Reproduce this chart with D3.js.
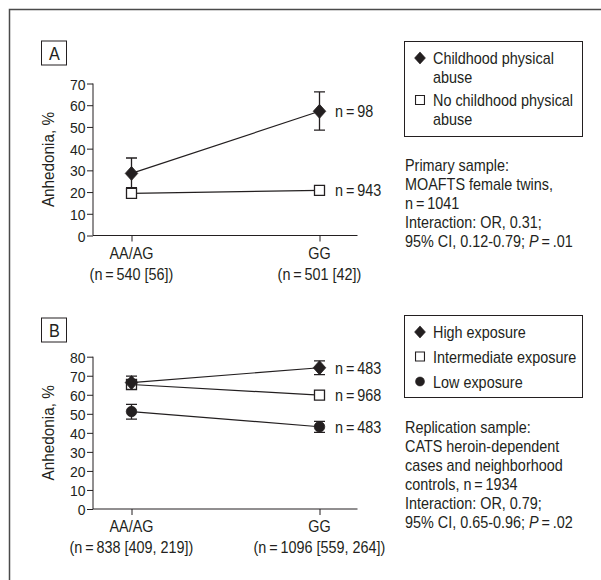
<!DOCTYPE html>
<html><head><meta charset="utf-8">
<script src="https://cdn.jsdelivr.net/npm/d3@7"></script>
<style>
body{margin:0;background:#fff;}
svg{display:block;font-family:"Liberation Sans",Arial,sans-serif;}
text{fill:#231f20;font-size:16px;}
</style></head><body>
<script>
// ---- data ----
const categories = ["AA/AG", "GG"];
const catLabelsA = ["(n\u2009=\u2009540 [56])", "(n\u2009=\u2009501 [42])"];
const catLabelsB = ["(n\u2009=\u2009838 [409, 219])", "(n\u2009=\u20091096 [559, 264])"];
const ticksA = [0,10,20,30,40,50,60,70];
const ticksB = [0,10,20,30,40,50,60,70,80];

const seriesA = ["Childhood physical abuse", "No childhood physical abuse"];
const abuseVal = [28.6, 57.2];
const abuseLo = [22.0, 48.5];
const abuseHi = [35.7, 66.1];
const noAbuseVal = [19.4, 20.8];
const noAbuseLo = [17.6, 19.0];
const noAbuseHi = [21.5, 22.6];
const nLabelsA = ["n\u2009=\u200998", "n\u2009=\u2009943"];

const seriesB = ["High exposure", "Intermediate exposure", "Low exposure"];
const highVal = [66.4, 74.2];
const highLo = [63.0, 70.6];
const highHi = [69.8, 77.8];
const interVal = [65.4, 59.8];
const interLo = [62.8, 57.6];
const interHi = [68.0, 62.2];
const lowVal = [51.2, 43.2];
const lowLo = [47.2, 40.2];
const lowHi = [55.0, 46.0];
const nLabelsB = ["n\u2009=\u2009483", "n\u2009=\u2009968", "n\u2009=\u2009483"];

const noteA = ["Primary sample:", "MOAFTS female twins,", "n\u2009=\u20091041", "Interaction: OR, 0.31;", ["95% CI, 0.12-0.79; ", "P", "\u2009=\u2009.01"]];
const noteB = ["Replication sample:", "CATS heroin-dependent", "cases and neighborhood", "controls, n\u2009=\u20091934", "Interaction: OR, 0.79;", ["95% CI, 0.65-0.96; ", "P", "\u2009=\u2009.02"]];

// ---- drawing ----
const W = 601, H = 580, ink = "#231f20", SX = 0.9;
const svg = d3.select("body").append("svg").attr("width", W).attr("height", H);

// condensed text helper
function T(g, x, y, str, size, anchor){
  const t = g.append("text").attr("transform",`translate(${x},${y}) scale(${SX},1)`)
    .attr("text-anchor", anchor||"start").style("font-size", (size||16)+"px");
  if(str!==undefined) t.text(str);
  return t;
}

// frame
svg.append("path").attr("d", "M9.5,580V9.5H601").attr("fill","none").attr("stroke","#4a4a4a").attr("stroke-width",1.5);

const diamond = { draw(ctx, size){ const h = Math.sqrt(size)*0.78, w = h*0.9;
  ctx.moveTo(0,-h); ctx.lineTo(w,0); ctx.lineTo(0,h); ctx.lineTo(-w,0); ctx.closePath(); } };
const square = { draw(ctx,size){ const s=Math.sqrt(size)/2; ctx.rect(-s,-s,2*s,2*s);} };
const circle = { draw(ctx,size){ const r=Math.sqrt(size)/2; ctx.moveTo(r,0); ctx.arc(0,0,r,0,2*Math.PI);} };

function marker(g, type, x, y, fill){
  const sym = type==="diamond"? diamond : type==="square"? square : circle;
  const size = type==="diamond"? 80 : type==="square"? 100 : 110;
  g.append("path").attr("d", d3.symbol().type(sym).size(size)())
   .attr("transform",`translate(${x},${y})`)
   .attr("fill", fill).attr("stroke", ink).attr("stroke-width", type==="square"?1.3:0.8);
}

function panel(opt){
  const g = svg.append("g");
  const x = d3.scalePoint().domain(categories).range([131.5, 319.5]);
  const y = d3.scaleLinear().domain([0, opt.max]).range([opt.y0, opt.y1]);
  // letter box
  g.append("rect").attr("x",41.5).attr("y",opt.boxY+0.5).attr("width",25).attr("height",24)
    .attr("fill","none").attr("stroke",ink).attr("stroke-width",1);
  T(g, 54.5, opt.boxY+19.5, opt.letter, 18, "middle");
  // y axis
  const ya = g.append("g").attr("transform","translate(93,0)")
    .call(d3.axisLeft(y).tickValues(opt.ticks).tickSize(6).tickPadding(2));
  ya.attr("font-family",null).attr("font-size",null);
  ya.select(".domain").attr("stroke",ink).attr("d",`M-0,${opt.y0}V${opt.y1}`);
  ya.selectAll(".tick line").attr("stroke",ink);
  ya.selectAll(".tick text").attr("x",-7.5/SX).attr("dy","0.36em")
    .attr("transform",`scale(${SX},1)`).style("font-size","15.5px").attr("fill",ink);
  // x axis
  const xa = g.append("g").attr("transform",`translate(0,${opt.y0})`)
    .call(d3.axisBottom(x).tickSize(6).tickFormat(""));
  xa.select(".domain").attr("stroke",ink).attr("d","M93,0H357.5");
  xa.selectAll(".tick line").attr("stroke",ink);
  categories.forEach((c,i)=>{
    T(g, x(c), opt.y0+23, c, 16, "middle");
    T(g, x(c), opt.y0+44, opt.catLabels[i], 16, "middle");
  });
  // y title
  g.append("text").attr("transform",`translate(54,${(opt.y0+opt.y1)/2}) rotate(-90) scale(${SX},1)`)
    .attr("text-anchor","middle").style("font-size","17px").text("Anhedonia, %");
  // series
  const line = d3.line().x((d,i)=>x(categories[i])).y(d=>y(d));
  opt.series.forEach(s=>{
    g.append("path").attr("d",line(s.val)).attr("fill","none").attr("stroke",ink).attr("stroke-width",1.2);
  });
  opt.series.forEach(s=>{
    categories.forEach((c,i)=>{
      const cx = x(c);
      g.append("path").attr("d",`M${cx},${y(s.lo[i])}V${y(s.hi[i])}M${cx-5.5},${y(s.lo[i])}H${cx+5.5}M${cx-5.5},${y(s.hi[i])}H${cx+5.5}`)
        .attr("stroke",ink).attr("stroke-width",1.3).attr("fill","none");
    });
  });
  opt.series.forEach(s=>{
    categories.forEach((c,i)=> marker(g, s.type, x(c), y(s.val[i]), s.fill));
    T(g, 335, y(s.val[1])+6, s.n, 16);
  });
  // legend
  g.append("rect").attr("x",404.5).attr("y",opt.leg.y+0.5).attr("width",178).attr("height",opt.leg.h)
    .attr("fill","none").attr("stroke",ink).attr("stroke-width",1);
  opt.leg.items.forEach(it=>{
    if(it.type) {
      const sym = it.type==="diamond"? diamond : it.type==="square"? square : circle;
      const size = it.type==="diamond"? 60 : it.type==="square"? 80 : 80;
      g.append("path").attr("d", d3.symbol().type(sym).size(size)()).attr("transform",`translate(420,${it.y})`)
        .attr("fill", it.fill).attr("stroke",ink).attr("stroke-width", it.type==="square"?1.1:0.6);
    }
    T(g, 433, it.y+6, it.text, 16);
  });
  // note
  opt.note.forEach((ln,i)=>{
    const t = T(g, 405, opt.noteY+i*19+6, undefined, 16);
    if(Array.isArray(ln)){
      t.append("tspan").text(ln[0]);
      t.append("tspan").style("font-style","italic").text(ln[1]);
      t.append("tspan").text(ln[2]);
    } else t.text(ln);
  });
}

panel({letter:"A", boxY:40.5, max:70, y0:235.5, y1:83.5, ticks:ticksA, catLabels:catLabelsA,
  series:[
    {type:"diamond", fill:ink, val:abuseVal, lo:abuseLo, hi:abuseHi, n:nLabelsA[0]},
    {type:"square", fill:"#fff", val:noAbuseVal, lo:noAbuseLo, hi:noAbuseHi, n:nLabelsA[1]}
  ],
  leg:{y:41, h:95, items:[
    {type:"diamond", fill:ink, y:58, text:"Childhood physical"},
    {y:77, text:"abuse"},
    {type:"square", fill:"#fff", y:100, text:"No childhood physical"},
    {y:119, text:"abuse"}
  ]},
  note:noteA, noteY:165
});

panel({letter:"B", boxY:317.5, max:80, y0:509, y1:356.7, ticks:ticksB, catLabels:catLabelsB,
  series:[
    {type:"square", fill:"#fff", val:interVal, lo:interLo, hi:interHi, n:nLabelsB[1]},
    {type:"circle", fill:ink, val:lowVal, lo:lowLo, hi:lowHi, n:nLabelsB[2]},
    {type:"diamond", fill:ink, val:highVal, lo:highLo, hi:highHi, n:nLabelsB[0]}
  ],
  leg:{y:315, h:82, items:[
    {type:"diamond", fill:ink, y:332, text:seriesB[0]},
    {type:"square", fill:"#fff", y:356.5, text:seriesB[1]},
    {type:"circle", fill:ink, y:381.5, text:seriesB[2]}
  ]},
  note:noteB, noteY:427
});
</script>
</body></html>
